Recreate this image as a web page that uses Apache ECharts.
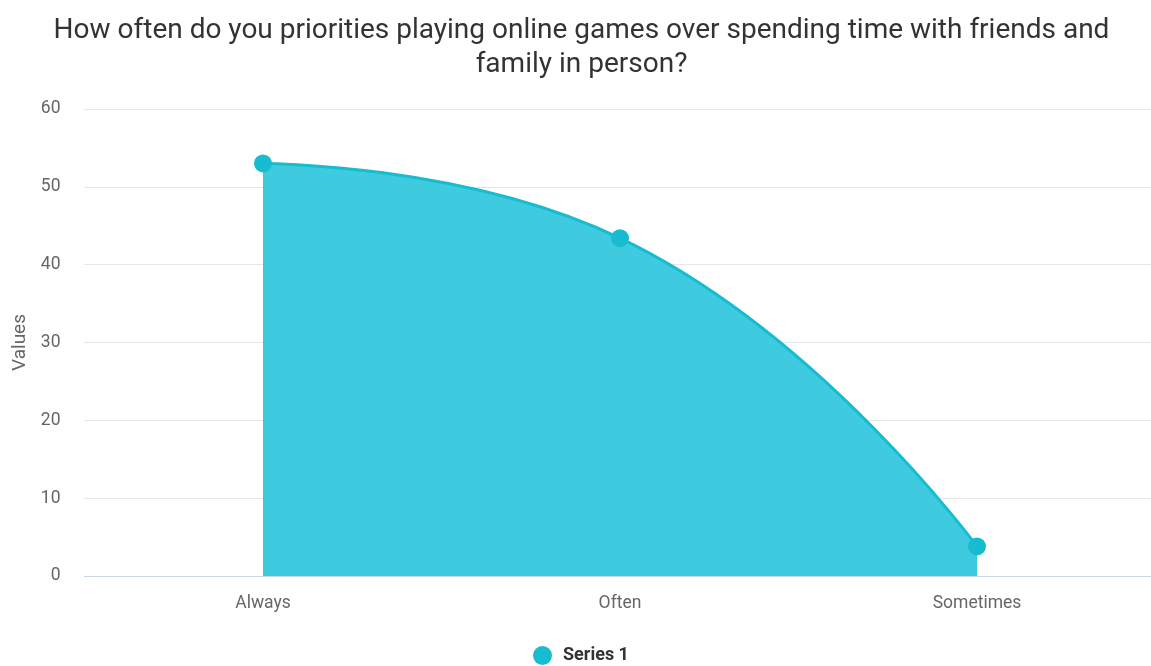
<!DOCTYPE html>
<html>
<head>
<meta charset="utf-8">
<script src="https://cdn.jsdelivr.net/npm/echarts@6/dist/echarts.min.js"></script>
<style>
  html, body { margin: 0; padding: 0; background: #fff; }
  #chart { width: 1151px; height: 666px; }
</style>
</head>
<body>
<div id="chart"></div>
<script>
// Survey answers and how many respondents gave each one
const categories = ['Always', 'Often', 'Sometimes'];
const series1 = [53, 43.4, 3.8];
const yTicks = { min: 0, max: 60, interval: 10 };

const chart = echarts.init(document.getElementById('chart'), null, { renderer: 'canvas' });

chart.setOption({
  backgroundColor: '#ffffff',
  animation: false,
  title: {
    text: 'How often do you priorities playing online games over spending time with friends and\nfamily in person?',
    left: 576.5,
    top: 9,
    textAlign: 'center',
    textStyle: {
      fontFamily: 'Roboto',
      fontSize: 28,
      fontWeight: 'normal',
      color: '#333333',
      lineHeight: 34
    }
  },
  legend: {
    left: 533,
    top: 646,
    padding: 0,
    icon: 'circle',
    itemWidth: 19,
    itemHeight: 19,
    textStyle: {
      fontFamily: 'Roboto',
      fontSize: 18,
      fontWeight: 'bold',
      color: '#333333',
      padding: [0, 0, 0, 6]
    },
    data: ['Series 1']
  },
  grid: {
    left: 84.5,
    width: 1071,
    top: 109,
    bottom: 90,
    outerBoundsMode: 'none'
  },
  xAxis: {
    type: 'category',
    data: categories,
    boundaryGap: true,
    axisLine: { lineStyle: { color: '#ccd6eb', width: 1 } },
    axisTick: { show: false },
    axisLabel: {
      fontFamily: 'Roboto',
      fontSize: 17.5,
      color: '#666666',
      margin: 19
    }
  },
  yAxis: {
    type: 'value',
    min: yTicks.min,
    max: yTicks.max,
    interval: yTicks.interval,
    name: 'Values',
    nameLocation: 'middle',
    nameRotate: 90,
    nameGap: 55,
    nameTextStyle: {
      fontFamily: 'Roboto',
      fontSize: 19,
      color: '#666666'
    },
    axisLine: { show: false },
    axisTick: { show: false },
    axisLabel: {
      fontFamily: 'Roboto',
      fontSize: 17.5,
      color: '#666666',
      margin: 24,
      padding: [3, 0, 0, 0]
    },
    splitLine: { lineStyle: { color: '#e6e6e6', width: 1 } }
  },
  series: [{
    name: 'Series 1',
    type: 'line',
    data: series1,
    smooth: 0.5,
    symbol: 'circle',
    symbolSize: 18,
    itemStyle: { color: '#17bcd0' },
    lineStyle: { color: '#17bcd0', width: 3 },
    areaStyle: { color: '#3ecbdf', opacity: 1 }
  }]
});
</script>
</body>
</html>
